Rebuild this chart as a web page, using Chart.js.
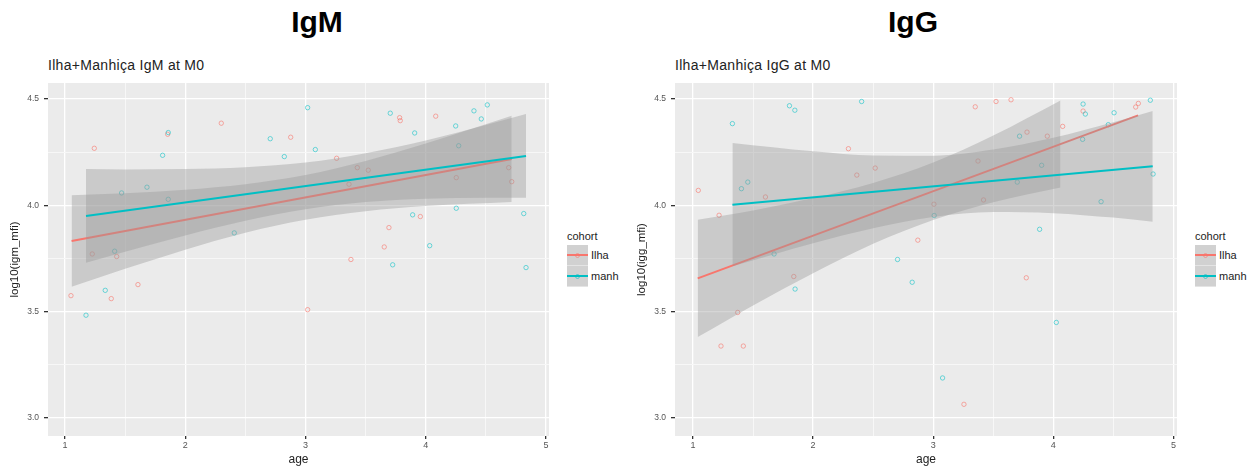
<!DOCTYPE html>
<html>
<head>
<meta charset="utf-8">
<script src="https://cdn.jsdelivr.net/npm/chart.js@4.4.0/dist/chart.umd.min.js"></script>
<style>
body{margin:0;background:#fff;font-family:"Liberation Sans",Arial,sans-serif;}
#page{position:relative;width:1253px;height:470px;overflow:hidden;}
.head{position:absolute;top:7px;font-size:30px;line-height:1;font-weight:bold;color:#000;transform:translateX(-50%);}
.sub{position:absolute;top:58px;font-size:14px;letter-spacing:0.3px;line-height:1;color:#222;white-space:nowrap;}
canvas{position:absolute;top:40px;}
.legend{position:absolute;top:231px;font-size:11px;line-height:1;color:#222;}
.legend .row{display:flex;align-items:center;height:21px;}
.legend .key{position:relative;width:21px;height:20px;background:#d1d1d1;border-bottom:1px solid #e4e4e4;margin-right:3px;}
.legend .key .ln{position:absolute;left:0;right:0;top:9px;height:2px;}
.legend .key .pt{position:absolute;left:8px;top:8px;width:3px;height:3px;border-radius:50%;border:1px solid;}
.legend .ttl{height:14px;}
</style>
</head>
<body>
<div id="page">
  <div class="head" style="left:317px">IgM</div>
  <div class="head" style="left:913px">IgG</div>
  <div class="sub" style="left:48px">Ilha+Manhiça IgM at M0</div>
  <div class="sub" style="left:675px">Ilha+Manhiça IgG at M0</div>
  <canvas id="igm" width="560" height="430" style="left:0px"></canvas>
  <canvas id="igg" width="560" height="430" style="left:627px"></canvas>
  <div class="legend" id="legIgm" style="left:567px"></div>
  <div class="legend" id="legIgg" style="left:1195px"></div>
</div>
<script>
// axes
const ageGrid = [1, 1.5, 2, 2.5, 3, 3.5, 4, 4.5, 5];
const ageLabels = [1, 2, 3, 4, 5];
const valGrid = [3.0, 3.25, 3.5, 3.75, 4.0, 4.25, 4.5];
const valLabels = [3.0, 3.5, 4.0, 4.5];
const cohortNames = ['Ilha', 'manh'];

// IgM points
const igmIlhaAge = [1.244, 1.854, 2.300, 2.877, 1.227, 1.430, 1.607, 1.050, 1.385, 3.259, 3.431, 3.522, 3.362, 3.783, 3.788, 4.083, 4.254, 4.690, 4.715, 3.955, 3.694, 3.655, 3.378, 3.018];
const igmIlhaVal = [4.268, 4.334, 4.386, 4.320, 3.771, 3.759, 3.627, 3.575, 3.561, 4.221, 4.177, 4.165, 4.099, 4.412, 4.398, 4.419, 4.130, 4.177, 4.111, 3.947, 3.895, 3.804, 3.745, 3.509];
const igmManhAge = [1.859, 1.812, 2.707, 2.824, 1.471, 1.682, 1.859, 2.408, 1.413, 1.335, 1.175, 3.018, 3.082, 3.705, 3.908, 4.249, 4.401, 4.462, 4.512, 4.274, 3.891, 4.254, 4.815, 4.033, 3.725, 4.834];
const igmManhVal = [4.342, 4.235, 4.313, 4.229, 4.058, 4.085, 4.028, 3.870, 3.784, 3.600, 3.483, 4.459, 4.262, 4.433, 4.340, 4.373, 4.444, 4.406, 4.472, 4.280, 3.955, 3.986, 3.961, 3.810, 3.720, 3.707];

// IgM fits and confidence bands
const igmIlhaFitAge = [1.055, 4.715];
const igmIlhaFit = [3.832, 4.218];
const igmIlhaBandAge = [1.055, 1.5, 2.0, 2.5, 3.0, 3.5, 4.0, 4.715];
const igmIlhaLow = [3.617, 3.701, 3.791, 3.871, 3.932, 3.972, 3.996, 4.015];
const igmIlhaHigh = [4.047, 4.057, 4.073, 4.099, 4.142, 4.208, 4.290, 4.421];
const igmManhFitAge = [1.175, 4.834];
const igmManhFit = [3.950, 4.232];
const igmManhBandAge = [1.175, 1.5, 2.0, 2.5, 3.0, 3.5, 4.0, 4.5, 4.834];
const igmManhLow = [3.730, 3.782, 3.858, 3.927, 3.981, 4.015, 4.031, 4.035, 4.035];
const igmManhHigh = [4.170, 4.168, 4.170, 4.179, 4.201, 4.245, 4.305, 4.377, 4.429];

// IgG points
const iggIlhaAge = [1.044, 1.217, 1.603, 2.294, 2.364, 2.517, 2.872, 1.839, 1.372, 1.233, 1.419, 3.006, 3.350, 3.523, 3.648, 3.373, 3.419, 3.781, 3.950, 4.078, 4.248, 4.686, 4.708, 3.775, 3.256];
const iggIlhaVal = [4.070, 3.953, 4.039, 4.266, 4.142, 4.175, 3.836, 3.665, 3.496, 3.338, 3.338, 4.005, 4.463, 4.488, 4.496, 4.208, 4.025, 4.344, 4.325, 4.371, 4.443, 4.462, 4.479, 3.659, 3.064];
const iggManhAge = [1.328, 1.403, 1.456, 1.803, 1.848, 1.675, 2.404, 2.703, 1.850, 2.825, 3.008, 3.700, 3.719, 3.903, 3.886, 4.248, 4.267, 4.244, 4.458, 4.506, 4.808, 4.831, 4.398, 4.025, 3.078];
const iggManhVal = [4.384, 4.078, 4.109, 4.468, 4.447, 3.771, 4.488, 3.745, 3.606, 3.638, 3.952, 4.109, 4.325, 4.188, 3.887, 4.476, 4.429, 4.310, 4.379, 4.435, 4.494, 4.147, 4.017, 3.449, 3.188];

// IgG fits and confidence bands
const iggIlhaFitAge = [1.039, 4.706];
const iggIlhaFit = [3.656, 4.423];
const iggIlhaBandAge = [1.039, 1.5, 2.0, 2.5, 3.0, 3.5, 4.06];
const iggIlhaLow = [3.380, 3.529, 3.680, 3.819, 3.931, 4.014, 4.083];
const iggIlhaHigh = [3.932, 3.975, 4.034, 4.105, 4.201, 4.328, 4.493];
const iggManhFitAge = [1.328, 4.828];
const iggManhFit = [4.003, 4.183];
const iggManhBandAge = [1.328, 2.0, 2.5, 3.0, 3.5, 4.0, 4.5, 4.828];
const iggManhLow = [3.713, 3.822, 3.892, 3.945, 3.968, 3.963, 3.942, 3.923];
const iggManhHigh = [4.293, 4.254, 4.234, 4.233, 4.262, 4.317, 4.390, 4.443];

const RED = '#F8766D', CYAN = '#00BFC4';
const RED_PT = 'rgba(248,118,109,0.6)', CYAN_PT = 'rgba(0,191,196,0.55)';
const RIBBON = 'rgba(153,153,153,0.4)';
const FONT = "'Liberation Sans', Arial, sans-serif";

Chart.defaults.font.family = FONT;

function pairs(xs, ys) {
    return xs.map((x, i) => ({x: x, y: ys[i]}));
}

const panelBg = {
    id: 'panelBg',
    beforeDraw(chart) {
        const a = chart.chartArea;
        const ctx = chart.ctx;
        ctx.save();
        ctx.fillStyle = '#ebebeb';
        ctx.fillRect(a.left, a.top, a.right - a.left, a.bottom - a.top);
        ctx.restore();
    }
};

function lineSet(data, color, order) {
    return {type: 'line', data: data, borderColor: color, borderWidth: 2, pointRadius: 0, fill: false, order: order};
}
function bandSet(data, fillTo, order) {
    return {type: 'line', data: data, borderColor: 'rgba(0,0,0,0)', borderWidth: 0, pointRadius: 0,
        backgroundColor: RIBBON, fill: fillTo, cubicInterpolationMode: 'monotone', order: order};
}
function pointSet(data, color, order) {
    return {type: 'scatter', data: data, borderColor: color, backgroundColor: 'rgba(0,0,0,0)',
        borderWidth: 1, pointRadius: 2.2, order: order};
}

function makePanel(id, yTitle, xMin, xMax, rightPad, d) {
    const ctx = document.getElementById(id);
    return new Chart(ctx, {
        type: 'scatter',
        data: {
            datasets: [
                lineSet(pairs(d.manhFitAge, d.manhFit), CYAN, 0),
                bandSet(pairs(d.manhBandAge, d.manhHigh), 2, 1),
                bandSet(pairs(d.manhBandAge, d.manhLow), false, 2),
                lineSet(pairs(d.ilhaFitAge, d.ilhaFit), RED, 3),
                bandSet(pairs(d.ilhaBandAge, d.ilhaHigh), 5, 4),
                bandSet(pairs(d.ilhaBandAge, d.ilhaLow), false, 5),
                pointSet(pairs(d.manhAge, d.manhVal), CYAN_PT, 6),
                pointSet(pairs(d.ilhaAge, d.ilhaVal), RED_PT, 7)
            ]
        },
        options: {
            responsive: false,
            animation: false,
            events: [],
            layout: {padding: {top: 43, right: rightPad, left: 0, bottom: 0}},
            plugins: {legend: {display: false}, tooltip: {enabled: false}},
            scales: {
                x: {
                    type: 'linear', min: xMin, max: xMax,
                    afterBuildTicks: s => { s.ticks = ageGrid.map(v => ({value: v})); },
                    afterFit: s => { s.height = 34; },
                    ticks: {
                        autoSkip: false, maxRotation: 0, padding: 1, color: '#555',
                        font: {size: 9},
                        callback: v => ageLabels.includes(v) ? String(v) : ''
                    },
                    grid: {
                        color: c => (c.tick && ageLabels.includes(c.tick.value)) ? '#ffffff' : '#f7f7f7',
                        lineWidth: c => (c.tick && ageLabels.includes(c.tick.value)) ? 1.3 : 1,
                        tickLength: 3,
                        tickColor: c => (c.tick && ageLabels.includes(c.tick.value)) ? '#333' : 'rgba(0,0,0,0)'
                    },
                    border: {display: false},
                    title: {display: true, text: 'age', color: '#222', font: {size: 12}, padding: {top: 0, bottom: 3}}
                },
                y: {
                    type: 'linear', min: 2.915, max: 4.575,
                    afterBuildTicks: s => { s.ticks = valGrid.map(v => ({value: v})); },
                    afterFit: s => { s.width = 48; },
                    ticks: {
                        autoSkip: false, padding: 5, color: '#555',
                        font: {size: 8.5},
                        callback: v => valLabels.includes(v) ? v.toFixed(1) : ''
                    },
                    grid: {
                        color: c => (c.tick && valLabels.includes(c.tick.value)) ? '#ffffff' : '#f7f7f7',
                        lineWidth: c => (c.tick && valLabels.includes(c.tick.value)) ? 1.3 : 1,
                        tickLength: 4,
                        tickColor: c => (c.tick && valLabels.includes(c.tick.value)) ? '#333' : 'rgba(0,0,0,0)'
                    },
                    border: {display: false},
                    title: {display: true, text: yTitle, color: '#222', font: {size: 11.5}, padding: {top: 8, bottom: 0}}
                }
            }
        },
        plugins: [panelBg]
    });
}

makePanel('igm', 'log10(igm_mfi)', 0.859, 5.025, 11, {
    ilhaAge: igmIlhaAge, ilhaVal: igmIlhaVal, manhAge: igmManhAge, manhVal: igmManhVal,
    ilhaFitAge: igmIlhaFitAge, ilhaFit: igmIlhaFit, ilhaBandAge: igmIlhaBandAge, ilhaLow: igmIlhaLow, ilhaHigh: igmIlhaHigh,
    manhFitAge: igmManhFitAge, manhFit: igmManhFit, manhBandAge: igmManhBandAge, manhLow: igmManhLow, manhHigh: igmManhHigh
});
makePanel('igg', 'log10(igg_mfi)', 0.85, 5.03, 10, {
    ilhaAge: iggIlhaAge, ilhaVal: iggIlhaVal, manhAge: iggManhAge, manhVal: iggManhVal,
    ilhaFitAge: iggIlhaFitAge, ilhaFit: iggIlhaFit, ilhaBandAge: iggIlhaBandAge, ilhaLow: iggIlhaLow, ilhaHigh: iggIlhaHigh,
    manhFitAge: iggManhFitAge, manhFit: iggManhFit, manhBandAge: iggManhBandAge, manhLow: iggManhLow, manhHigh: iggManhHigh
});

// ggplot-style legends
function buildLegend(id) {
    const box = document.getElementById(id);
    const colors = [RED, CYAN];
    const ptColors = [RED_PT, CYAN_PT];
    let html = '<div class="ttl">cohort</div>';
    cohortNames.forEach((name, i) => {
        html += '<div class="row"><div class="key"><div class="ln" style="background:' + colors[i] + '"></div>' +
            '<div class="pt" style="border-color:' + ptColors[i] + '"></div></div>' + name + '</div>';
    });
    box.innerHTML = html;
}
buildLegend('legIgm');
buildLegend('legIgg');
</script>
</body>
</html>
